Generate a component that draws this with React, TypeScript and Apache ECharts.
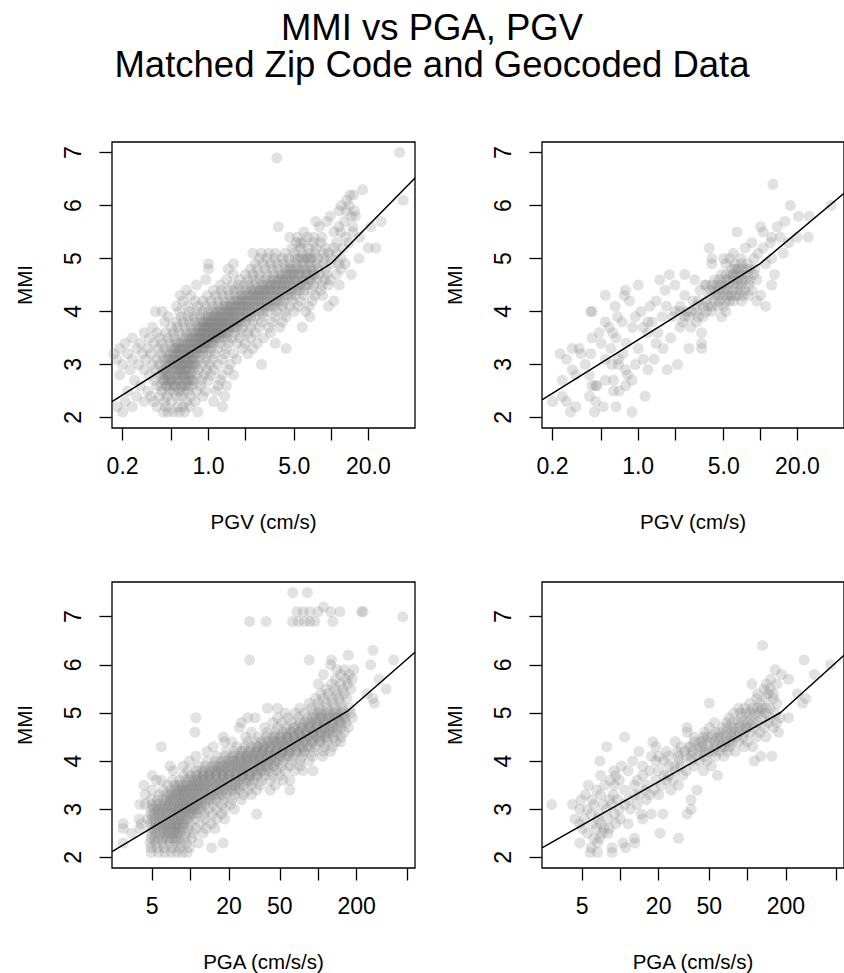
import React, { useEffect, useRef } from "react";
import * as echarts from "echarts";

// ---------- tick values ----------
const MMI_TICKS = [2, 3, 4, 5, 6, 7];
const PGV_TICKS = [0.2, 0.5, 1, 2, 5, 10, 20];
const PGV_LABELS = [0.2, 1, 5, 20];
const PGA_TICKS = [5, 10, 20, 50, 100, 200, 500];
const PGA_LABELS = [5, 20, 50, 200];

// ---------- axis ranges ----------
const PGV_RANGE = [0.164, 48];
const PGA_RANGE = [2.42, 573];
const MMI_RANGE_TOP = [1.8, 7.2];
const MMI_RANGE_BOTTOM = [1.78, 7.72];

// ---------- data: [MMI, list of ground motion values] ----------
const pgvZipRows: [number, number[]][] = [
  [2.1, [0.2, 0.43, 0.47, 0.52, 0.58, 0.64, 0.82]],
  [2.2, [0.18, 0.24, 0.38, 0.45, 0.56, 0.62, 0.7, 1.3]],
  [2.3, [0.21, 0.3, 0.36, 0.44, 0.5, 0.66, 0.78, 1.1]],
  [2.4, [0.26, 0.34, 0.4, 0.46, 0.55, 0.6, 0.72, 0.9, 1.35]],
  [2.5, [0.22, 0.32, 0.42, 0.48, 0.52, 0.58, 0.63, 0.68, 0.8, 0.95, 1.15]],
  [2.6, [0.28, 0.38, 0.41, 0.45, 0.5, 0.54, 0.6, 0.65, 0.74, 0.86, 1.2, 1.4]],
  [2.7, [0.25, 0.36, 0.43, 0.47, 0.51, 0.57, 0.62, 0.7, 0.76, 0.88, 1.0, 1.25]],
  [2.8, [0.19, 0.33, 0.4, 0.44, 0.49, 0.53, 0.59, 0.64, 0.72, 0.8, 0.92, 1.05, 1.3, 1.6]],
  [2.9, [0.23, 0.3, 0.37, 0.42, 0.46, 0.5, 0.55, 0.6, 0.67, 0.75, 0.83, 0.97, 1.1, 1.45]],
  [3.0, [0.2, 0.27, 0.35, 0.4, 0.45, 0.5, 0.56, 0.61, 0.66, 0.73, 0.79, 0.9, 1.02, 1.2, 1.5, 2.7]],
  [3.1, [0.18, 0.24, 0.31, 0.38, 0.43, 0.48, 0.53, 0.58, 0.64, 0.7, 0.77, 0.85, 0.95, 1.08, 1.3, 1.7]],
  [3.2, [0.17, 0.22, 0.29, 0.34, 0.41, 0.46, 0.52, 0.57, 0.63, 0.69, 0.75, 0.82, 0.9, 1.0, 1.12, 1.35, 1.6, 2.1]],
  [3.3, [0.19, 0.26, 0.32, 0.39, 0.44, 0.5, 0.55, 0.6, 0.66, 0.72, 0.8, 0.88, 0.96, 1.05, 1.18, 1.4, 1.9, 2.3, 4.3]],
  [3.4, [0.21, 0.28, 0.36, 0.42, 0.48, 0.54, 0.6, 0.68, 0.74, 0.81, 0.87, 0.93, 1.0, 1.1, 1.25, 1.45, 1.7, 2.0, 2.5, 3.5]],
  [3.5, [0.24, 0.33, 0.4, 0.47, 0.53, 0.62, 0.7, 0.78, 0.85, 0.92, 1.0, 1.08, 1.16, 1.28, 1.4, 1.55, 1.8, 2.2, 2.8]],
  [3.6, [0.3, 0.38, 0.45, 0.52, 0.58, 0.66, 0.76, 0.84, 0.9, 0.98, 1.06, 1.14, 1.22, 1.32, 1.45, 1.62, 1.85, 2.1, 2.4, 3.2]],
  [3.7, [0.35, 0.5, 0.56, 0.64, 0.72, 0.8, 0.88, 0.95, 1.02, 1.1, 1.2, 1.3, 1.42, 1.55, 1.7, 1.9, 2.2, 2.6, 3.1, 3.8, 5.8]],
  [3.8, [0.44, 0.55, 0.62, 0.7, 0.78, 0.86, 0.94, 1.02, 1.12, 1.22, 1.32, 1.45, 1.6, 1.75, 2.0, 2.3, 2.7, 3.3, 4.0]],
  [3.9, [0.47, 0.6, 0.68, 0.76, 0.85, 0.95, 1.05, 1.15, 1.25, 1.38, 1.5, 1.65, 1.85, 2.05, 2.4, 2.8, 3.5, 4.3, 6.7]],
  [4.0, [0.37, 0.42, 0.58, 0.7, 0.8, 0.9, 1.0, 1.1, 1.22, 1.35, 1.48, 1.62, 1.8, 2.0, 2.25, 2.6, 3.0, 3.6, 4.2, 5.0, 6.2]],
  [4.1, [0.55, 0.68, 0.82, 0.95, 1.08, 1.2, 1.32, 1.45, 1.6, 1.78, 1.95, 2.15, 2.4, 2.7, 3.1, 3.5, 4.0, 4.6, 5.4, 6.6, 9.5]],
  [4.2, [0.62, 0.78, 0.9, 1.05, 1.2, 1.35, 1.5, 1.68, 1.85, 2.05, 2.3, 2.55, 2.85, 3.2, 3.6, 4.1, 4.8, 5.6, 7.0, 10.5]],
  [4.3, [0.59, 0.72, 0.98, 1.15, 1.3, 1.48, 1.65, 1.82, 2.0, 2.2, 2.45, 2.7, 3.0, 3.4, 3.8, 4.4, 5.1, 6.0, 7.4, 8.5]],
  [4.4, [0.66, 1.1, 1.28, 1.45, 1.62, 1.8, 2.0, 2.2, 2.4, 2.65, 2.9, 3.2, 3.6, 4.0, 4.5, 5.2, 6.0, 7.0, 8.2]],
  [4.5, [0.8, 1.25, 1.55, 1.75, 1.95, 2.15, 2.4, 2.7, 3.0, 3.3, 3.7, 4.1, 4.6, 5.3, 6.1, 7.2, 8.4, 9.5, 11.6]],
  [4.6, [0.95, 1.4, 1.8, 2.1, 2.35, 2.6, 2.9, 3.2, 3.6, 4.0, 4.5, 5.0, 5.8, 6.6, 7.6, 8.8, 9.8]],
  [4.7, [1.6, 2.0, 2.3, 2.6, 3.0, 3.4, 3.8, 4.3, 4.8, 5.4, 6.2, 7.0, 8.0, 9.2, 11, 14.5]],
  [4.8, [1.0, 1.45, 2.2, 2.5, 2.9, 3.3, 3.7, 4.2, 4.7, 5.3, 6.0, 6.8, 7.8, 9.0, 12]],
  [4.9, [1.0, 1.6, 2.4, 2.8, 3.2, 3.6, 4.1, 4.6, 5.2, 5.9, 6.7, 7.6, 8.6, 10, 11.5, 13]],
  [5.0, [2.6, 3.0, 3.5, 4.0, 4.5, 5.1, 5.7, 6.4, 7.0, 7.8, 8.8, 10, 12, 16.8]],
  [5.1, [2.3, 2.7, 3.1, 3.5, 4.2, 5.0, 5.8, 6.6, 7.4, 8.6, 9.5, 11]],
  [5.2, [4.8, 5.6, 6.5, 7.5, 9, 10.5, 12.5, 20, 23]],
  [5.3, [5.2, 5.6, 6.0, 7.2, 8.2, 11, 14]],
  [5.4, [4.6, 5.3, 6.4, 7.2, 8.4, 13, 17]],
  [5.5, [6.0, 10.5, 12, 15]],
  [5.6, [3.7, 8.0, 11.5, 15, 21]],
  [5.7, [7.5, 9.2, 12.8, 25.5]],
  [5.8, [9.8, 14.5, 15.7]],
  [5.9, [11.6, 13.2, 15.5]],
  [6.0, [12, 14]],
  [6.1, [13.3, 38.5]],
  [6.2, [14.2, 15.2]],
  [6.3, [18]],
  [6.9, [3.6]],
  [7.0, [36]],
];

// additional points in the densest part of the PGV / zip-code cloud
const pgvZipCoreRows: [number, number[]][] = [
  [2.6, [0.46, 0.53, 0.61, 0.69]],
  [2.7, [0.44, 0.49, 0.55, 0.66, 0.73]],
  [2.8, [0.42, 0.47, 0.56, 0.62, 0.68]],
  [2.9, [0.44, 0.52, 0.58, 0.64, 0.7]],
  [3.0, [0.48, 0.53, 0.59, 0.63, 0.7, 0.76]],
  [3.1, [0.46, 0.51, 0.56, 0.62, 0.67, 0.74]],
  [3.2, [0.49, 0.55, 0.6, 0.66, 0.72, 0.79]],
  [3.3, [0.53, 0.58, 0.63, 0.69, 0.76, 0.84, 0.92]],
  [3.4, [0.57, 0.64, 0.71, 0.78, 0.84, 0.9, 0.97, 1.05]],
  [3.5, [0.66, 0.74, 0.82, 0.88, 0.96, 1.04, 1.12, 1.22]],
  [3.6, [0.72, 0.8, 0.87, 0.94, 1.02, 1.1, 1.18, 1.27, 1.38]],
  [3.7, [0.84, 0.92, 0.99, 1.06, 1.15, 1.25, 1.36, 1.48, 1.62]],
  [3.8, [0.9, 0.98, 1.07, 1.17, 1.27, 1.38, 1.52, 1.68, 1.85]],
  [3.9, [1.0, 1.1, 1.2, 1.32, 1.44, 1.58, 1.75, 1.95, 2.2]],
  [4.0, [1.16, 1.28, 1.42, 1.55, 1.7, 1.9, 2.1, 2.4, 2.8]],
  [4.1, [1.38, 1.52, 1.68, 1.86, 2.05, 2.28, 2.55, 2.9, 3.3]],
  [4.2, [1.6, 1.76, 1.95, 2.18, 2.42, 2.7, 3.0, 3.4, 3.85]],
  [4.3, [1.9, 2.1, 2.32, 2.58, 2.85, 3.2, 3.6, 4.1, 4.7]],
  [4.4, [2.3, 2.55, 2.8, 3.1, 3.4, 3.8, 4.25, 4.8, 5.5]],
  [4.5, [2.8, 3.15, 3.5, 3.9, 4.35, 4.9, 5.6, 6.4]],
  [4.6, [3.4, 3.8, 4.2, 4.7, 5.3, 6.0, 6.8]],
  [4.7, [4.0, 4.5, 5.0, 5.6, 6.4, 7.3]],
  [4.8, [4.5, 5.0, 5.6, 6.3, 7.2]],
  [5.0, [5.4, 6.1, 6.7]],
];

const pgvGeoRows: [number, number[]][] = [
  [2.1, [0.28, 0.44, 0.89]],
  [2.2, [0.31, 0.52, 0.66]],
  [2.3, [0.2, 0.26, 0.45]],
  [2.4, [0.24, 0.4, 1.14]],
  [2.5, [0.63, 0.7]],
  [2.6, [0.42, 0.46, 0.45, 0.79]],
  [2.7, [0.24, 0.54, 0.63, 0.89]],
  [2.8, [0.31, 0.4, 0.82]],
  [2.9, [0.29, 0.79, 1.2, 1.73]],
  [3.0, [0.37, 0.61, 0.69, 0.95, 2.1]],
  [3.1, [0.26, 0.54, 0.69, 1.1, 1.35]],
  [3.2, [0.23, 0.34, 0.41, 0.75]],
  [3.3, [0.29, 0.33, 0.6, 1.0, 1.6, 2.6, 3.3]],
  [3.4, [0.5, 0.8, 1.4, 3.3]],
  [3.5, [0.42, 0.66, 1.84]],
  [3.6, [0.48, 0.62, 1.2, 1.45, 3.3]],
  [3.7, [0.58, 0.9, 1.1, 2.2, 2.7]],
  [3.8, [0.54, 0.74, 1.2, 1.3, 2.3, 3.0]],
  [3.9, [0.68, 0.95, 1.57, 1.9, 2.4, 2.6, 3.1, 3.4, 4.8]],
  [4.0, [0.41, 0.42, 1.05, 2.0, 2.2, 2.5, 2.7, 3.0, 3.6, 4.0, 5.2]],
  [4.1, [0.65, 1.25, 1.7, 2.2, 3.0, 3.4, 3.7, 4.0, 4.5, 5.0, 11]],
  [4.2, [0.85, 1.4, 2.8, 3.1, 3.6, 4.2, 4.6, 5.2, 5.6, 6.0, 7.0, 9.3]],
  [4.3, [0.54, 0.77, 2.4, 3.8, 4.3, 4.6, 5.0, 5.4, 5.8, 6.2, 6.6, 7.2, 8.0, 10]],
  [4.4, [0.79, 1.66, 3.2, 3.9, 4.2, 4.5, 5.0, 5.4, 6.0, 6.8, 7.4, 8.5]],
  [4.5, [1.0, 2.0, 3.5, 3.6, 4.0, 4.4, 4.7, 5.0, 5.4, 6.0, 6.5, 7.0, 8.0, 12.3]],
  [4.6, [1.5, 2.9, 4.2, 4.6, 5.2, 5.5, 6.0, 6.5, 7.0, 7.5, 8.2, 9.3]],
  [4.7, [1.8, 2.4, 4.8, 5.2, 5.8, 6.0, 6.4, 7.0, 7.8, 8.8, 13]],
  [4.8, [5.8, 6.2, 6.6, 7.0, 7.5, 8.2, 9.0]],
  [4.9, [4.0, 5.2, 6.2, 7.0, 7.8, 11]],
  [5.0, [4.0, 5.0, 5.6, 6.9, 8.8, 12.3]],
  [5.1, [6.0, 9.5, 15.3]],
  [5.2, [3.8, 7.5, 10.5]],
  [5.3, [8.5, 12, 16.9]],
  [5.4, [12.3, 14.5, 19.8, 24.5]],
  [5.5, [6.4, 10.5]],
  [5.6, [10, 13.7]],
  [5.7, [15.8]],
  [5.8, [20.4, 25]],
  [6.0, [17.5, 37.8]],
  [6.4, [12.6]],
];

const pgaZipRows: [number, number[]][] = [
  [2.1, [4.9, 5.6, 6.3, 7.0, 7.8, 8.6, 9.4]],
  [2.2, [4.9, 5.5, 6.2, 7.2, 8.2, 9.8, 14.6]],
  [2.3, [2.96, 4.8, 5.3, 6.0, 6.8, 7.6, 8.4, 9.3, 11.5, 18]],
  [2.4, [4.9, 5.6, 6.4, 7.2, 8.0, 9.0, 10.2]],
  [2.5, [3.45, 4.9, 5.8, 6.6, 7.5, 8.3, 9.2, 10.5, 12.5]],
  [2.6, [2.96, 4.0, 4.9, 5.5, 6.2, 7.0, 7.8, 8.7, 9.6, 11, 13.2, 15.5]],
  [2.7, [2.96, 4.1, 4.9, 5.7, 6.5, 7.3, 8.1, 9.0, 10, 12, 14.5]],
  [2.8, [3.95, 4.6, 5.3, 6.0, 6.8, 7.6, 8.5, 9.5, 10.8, 13, 16, 18.5]],
  [2.9, [4.9, 5.6, 6.3, 7.1, 8.0, 9.0, 10, 11.2, 12.8, 14.8, 17.5, 33]],
  [3.0, [4.9, 5.5, 6.2, 7.0, 7.8, 8.7, 9.6, 10.8, 12.2, 13.8, 16, 18.5, 22]],
  [3.1, [4.0, 4.4, 5.0, 5.8, 6.6, 7.4, 8.3, 9.2, 10.3, 11.5, 13, 15, 17.5, 20.5]],
  [3.2, [4.9, 5.5, 6.1, 6.9, 7.7, 8.6, 9.6, 10.8, 12.2, 13.8, 15.8, 18, 21, 25]],
  [3.3, [4.4, 5.7, 6.5, 7.2, 8.1, 9.0, 10.2, 11.4, 12.8, 14.5, 16.5, 19, 22, 26, 30]],
  [3.4, [5.0, 6.1, 7.0, 7.9, 8.8, 9.8, 11, 12.4, 14, 16, 18.2, 21, 24, 28, 33, 42, 60]],
  [3.5, [4.3, 6.6, 7.5, 8.5, 9.5, 10.6, 11.8, 13.2, 15, 17, 19.5, 22.5, 26, 30, 35, 46]],
  [3.6, [5.4, 5.9, 7.2, 8.2, 9.2, 10.4, 11.6, 13, 14.5, 16.5, 18.5, 21, 24, 27.5, 31, 36, 42, 53, 60]],
  [3.7, [5.0, 8.8, 10, 11.3, 12.6, 14, 15.8, 17.8, 20, 22.5, 25.5, 29, 33, 38, 44, 50]],
  [3.8, [7.3, 9.5, 11, 12.4, 14, 15.6, 17.4, 19.5, 22, 25, 28, 32, 36, 41, 47, 55, 65, 76, 91]],
  [3.9, [6.9, 8.75, 11.5, 13, 14.8, 16.5, 18.5, 21, 23.5, 26.5, 30, 34, 39, 45, 52, 60, 72]],
  [4.0, [9.8, 13.5, 15.5, 17.5, 19.8, 22, 25, 28, 31.5, 35.5, 40, 46, 53, 62, 72, 85]],
  [4.1, [11, 16, 18.5, 21, 24, 27, 30.5, 34, 38.5, 43, 49, 56, 64, 75, 90, 108]],
  [4.2, [13.4, 19, 22, 25, 28.5, 32, 36, 40.5, 46, 52, 59, 67, 78, 92, 110, 125]],
  [4.3, [5.9, 15, 23, 26.5, 30, 34, 38, 43, 49, 55, 62, 71, 82, 95, 112, 130]],
  [4.4, [18.5, 21, 28, 32, 36, 41, 46, 52, 59, 67, 76, 88, 102, 118, 138, 150]],
  [4.5, [18, 27, 34, 39, 44, 50, 57, 65, 74, 85, 98, 114, 132, 150]],
  [4.6, [10.8, 30, 40, 46, 53, 61, 70, 80, 92, 106, 122, 140, 160]],
  [4.7, [24, 38, 48, 56, 64, 74, 85, 98, 113, 130, 150, 172]],
  [4.8, [25, 44, 52, 62, 72, 84, 96, 110, 127, 146, 165]],
  [4.9, [11, 28, 32, 48, 58, 70, 82, 95, 108, 124, 142, 162, 185]],
  [5.0, [55, 66, 78, 92, 106, 122, 140, 160, 180]],
  [5.1, [40, 48, 72, 88, 102, 118, 136, 155, 175]],
  [5.2, [85, 100, 115, 130, 150, 275]],
  [5.3, [95, 110, 128, 145, 168, 268]],
  [5.4, [105, 120, 140, 160, 240]],
  [5.5, [115, 135, 155, 180, 340]],
  [5.6, [100, 128, 150, 170]],
  [5.7, [136, 165, 185, 300]],
  [5.8, [110, 150, 175]],
  [5.9, [140, 160, 190]],
  [6.0, [125, 258]],
  [6.1, [29, 85, 127, 390]],
  [6.2, [172]],
  [6.3, [268]],
  [6.9, [29, 39, 63, 70, 78, 86, 94, 130]],
  [7.0, [460]],
  [7.1, [68, 76, 86, 100, 125, 148, 218, 225]],
  [7.2, [110]],
  [7.5, [63, 82]],
];

// additional points in the densest part of the PGA / zip-code cloud
const pgaZipCoreRows: [number, number[]][] = [
  [2.4, [5.2, 6.0, 6.8, 7.6]],
  [2.5, [5.3, 6.2, 7.0, 7.9]],
  [2.6, [5.2, 5.9, 6.6, 7.4, 8.2]],
  [2.7, [5.3, 6.1, 6.9, 7.7, 8.6]],
  [2.8, [5.0, 5.7, 6.4, 7.2, 8.0, 9.0]],
  [2.9, [5.2, 5.9, 6.7, 7.5, 8.4, 9.5, 10.6]],
  [3.0, [5.2, 5.9, 6.6, 7.4, 8.2, 9.2, 10.2, 11.5]],
  [3.1, [5.4, 6.2, 7.0, 7.9, 8.8, 9.8, 10.9, 12.2]],
  [3.2, [6.5, 7.3, 8.2, 9.1, 10.2, 11.4, 12.9, 14.6]],
  [3.3, [6.9, 7.7, 8.6, 9.6, 10.7, 12, 13.6, 15.4, 17.6]],
  [3.4, [7.5, 8.4, 9.3, 10.4, 11.6, 13, 14.8, 16.8, 19.5, 22.5]],
  [3.5, [8.0, 9.0, 10.1, 11.2, 12.5, 14, 15.9, 18, 20.8, 24]],
  [3.6, [9.7, 11, 12.3, 13.8, 15.5, 17.3, 19.6, 22.3, 25.5, 29]],
  [3.7, [11, 12.5, 14, 15.8, 17.8, 20, 22.6, 25.5, 29, 33]],
  [3.8, [13, 14.8, 16.5, 18.5, 20.8, 23.4, 26.5, 30, 34, 38.5]],
  [3.9, [15.6, 17.6, 19.8, 22.3, 25, 28, 31.6, 35.6, 40, 45]],
  [4.0, [18.6, 21, 23.6, 26.5, 29.7, 33.4, 37.5, 42, 48]],
  [4.1, [22, 25, 28, 31.5, 35.5, 40, 45, 51, 58]],
  [4.2, [26, 29.5, 33, 37, 41.5, 47, 53, 60, 68, 77]],
  [4.3, [33, 37, 41.5, 46.5, 52, 58.5, 66, 75, 86]],
  [4.4, [39, 44, 49.5, 55.5, 62, 70, 79, 90, 104]],
  [4.5, [46, 52, 58, 65, 73, 82, 92, 104, 118]],
  [4.6, [56, 63, 71, 80, 90, 101, 114, 130]],
  [4.7, [66, 75, 85, 96, 108, 122, 140]],
  [4.8, [78, 88, 100, 114, 130, 150]],
  [4.9, [90, 104, 118, 135, 155]],
  [5.0, [100, 115, 132, 150]],
];

const pgaGeoRows: [number, number[]][] = [
  [2.1, [5.8, 6.6, 8.6]],
  [2.2, [5.9, 8.6, 11]],
  [2.3, [4.8, 6.6, 10.5, 13]],
  [2.4, [6.2, 6.9, 12.9, 28.6]],
  [2.5, [5.5, 7.2, 8.0, 20.5]],
  [2.6, [5.0, 6.5, 7.4, 8.2]],
  [2.7, [4.8, 6.0, 7.0, 9.2, 11.5]],
  [2.8, [4.4, 5.2, 6.7, 8.0, 10, 15]],
  [2.9, [5.9, 6.8, 9.0, 14.6, 17.5, 21.6, 33.5]],
  [3.0, [4.8, 5.5, 7.8, 9.8, 12, 36]],
  [3.1, [2.88, 4.2, 6.2, 7.3, 8.6, 10.8, 13.5]],
  [3.2, [4.9, 6.0, 8.2, 9.5, 11.6, 16, 36]],
  [3.3, [5.3, 7.0, 8.8, 12.9, 14, 17, 20]],
  [3.4, [6.5, 10.8, 15.5, 18.5, 25, 40]],
  [3.5, [5.6, 7.5, 9.0, 12.9, 16, 21, 28.6]],
  [3.6, [8.3, 9.8, 13.5, 19, 23, 26]],
  [3.7, [7.0, 9.2, 15, 22, 24, 31, 58]],
  [3.8, [8.9, 11.5, 17, 20, 27, 33, 45]],
  [3.9, [10.2, 15, 24, 26.5, 30, 38, 52]],
  [4.0, [6.9, 12.5, 19, 22, 29, 36, 42, 48, 113]],
  [4.1, [17.5, 20, 24, 28.6, 33, 36, 40, 46, 56, 65, 127, 155]],
  [4.2, [14, 23, 28, 32, 37, 42, 46, 50, 54, 60, 70, 80]],
  [4.3, [7.8, 19, 30, 35, 36, 42, 44, 50, 56, 62, 66, 72, 94, 110]],
  [4.4, [18, 27, 38, 42, 44, 50, 55, 60, 66, 72, 76, 85, 100]],
  [4.5, [10.8, 38, 45, 48, 52, 58, 62, 68, 75, 82, 92, 118, 140]],
  [4.6, [33.5, 46, 56, 60, 68, 74, 80, 86, 95, 104, 125, 175]],
  [4.7, [33.5, 50, 64, 70, 78, 86, 96, 100, 112, 135, 160]],
  [4.8, [55, 68, 76, 84, 92, 100, 110, 120, 145, 170]],
  [4.9, [72, 89, 106, 128, 150, 180, 210]],
  [5.0, [78, 88, 97, 105, 115, 125, 138, 165]],
  [5.1, [85, 95, 110, 120, 130, 140, 150]],
  [5.2, [50, 104, 125, 170, 270]],
  [5.3, [118, 140, 160, 287]],
  [5.4, [120, 145, 160, 247]],
  [5.5, [135, 150]],
  [5.6, [108, 140, 170]],
  [5.7, [152, 210]],
  [5.8, [185, 335]],
  [5.9, [165]],
  [6.0, [450]],
  [6.1, [278]],
  [6.4, [131]],
];

// ---------- fitted (bilinear) relations: ground motion breakpoints and MMI ----------
const pgvZipFitX = [0.164, 10, 48];
const pgvZipFitY = [2.3, 4.91, 6.52];
const pgvGeoFitX = [0.164, 10, 48];
const pgvGeoFitY = [2.33, 4.91, 6.23];
const pgaZipFitX = [2.42, 172, 573];
const pgaZipFitY = [2.12, 5.05, 6.26];
const pgaGeoFitX = [2.42, 182, 573];
const pgaGeoFitY = [2.2, 5.01, 6.2];

// ---------- text ----------
const TITLE_LINE_1 = "MMI vs PGA, PGV";
const TITLE_LINE_2 = "Matched Zip Code and Geocoded Data";
const Y_NAME = "MMI";
const PGV_NAME = "PGV (cm/s)";
const PGA_NAME = "PGA (cm/s/s)";

const FONT = "'Liberation Sans', Arial, Helvetica, sans-serif";

function flatten(...groups: [number, number[]][][]): [number, number][] {
  const out: [number, number][] = [];
  groups.forEach((rows) =>
    rows.forEach(([m, xs]) => xs.forEach((x) => out.push([x, m])))
  );
  return out;
}

function zip(xs: number[], ys: number[]): [number, number][] {
  return xs.map((x, i) => [x, ys[i]]);
}

export default function App() {
  const ref = useRef<HTMLDivElement>(null);

  useEffect(() => {
    if (!ref.current) return;
    document.body.style.margin = "0";
    const chart = echarts.init(ref.current, undefined, { renderer: "svg" });

    const grids = [
      { left: 112, top: 142, width: 303, height: 286 },
      { left: 542, top: 142, width: 303, height: 286 },
      { left: 112, top: 582, width: 303, height: 286 },
      { left: 542, top: 582, width: 303, height: 286 },
    ].map((g) => ({
      ...g,
      show: true,
      borderColor: "#000",
      borderWidth: 1.3,
      backgroundColor: "transparent",
      containLabel: false,
    }));

    const xAxisFor = (i: number, isPgv: boolean) => ({
      type: "log",
      logBase: 10,
      gridIndex: i,
      min: isPgv ? PGV_RANGE[0] : PGA_RANGE[0],
      max: isPgv ? PGV_RANGE[1] : PGA_RANGE[1],
      axisLine: { show: false },
      splitLine: { show: false },
      axisTick: {
        show: true,
        customValues: isPgv ? PGV_TICKS : PGA_TICKS,
        length: 12.5,
        lineStyle: { color: "#000", width: 1.3 },
      },
      axisLabel: {
        show: true,
        customValues: isPgv ? PGV_LABELS : PGA_LABELS,
        formatter: (v: number) =>
          isPgv ? Number(v).toFixed(1) : String(Math.round(Number(v))),
        margin: 26,
        fontSize: 23,
        color: "#000",
        fontFamily: FONT,
      },
      name: isPgv ? PGV_NAME : PGA_NAME,
      nameLocation: "middle",
      nameGap: 83,
      nameMoveOverlap: false,
      nameTextStyle: { fontSize: 20.5, color: "#000", fontFamily: FONT },
    });

    const yAxisFor = (i: number, range: number[]) => ({
      type: "value",
      gridIndex: i,
      min: range[0],
      max: range[1],
      axisLine: { show: false },
      splitLine: { show: false },
      axisTick: {
        show: true,
        customValues: MMI_TICKS,
        length: 12.5,
        lineStyle: { color: "#000", width: 1.3 },
      },
      axisLabel: {
        show: true,
        customValues: MMI_TICKS,
        rotate: 90,
        margin: 28,
        fontSize: 23,
        color: "#000",
        fontFamily: FONT,
        formatter: (v: number) => String(Math.round(Number(v))),
      },
      name: Y_NAME,
      nameLocation: "middle",
      nameGap: 77,
      nameMoveOverlap: false,
      nameTextStyle: { fontSize: 20.5, color: "#000", fontFamily: FONT },
    });

    const panels = [
      { points: flatten(pgvZipRows, pgvZipCoreRows), fx: pgvZipFitX, fy: pgvZipFitY },
      { points: flatten(pgvGeoRows), fx: pgvGeoFitX, fy: pgvGeoFitY },
      { points: flatten(pgaZipRows, pgaZipCoreRows), fx: pgaZipFitX, fy: pgaZipFitY },
      { points: flatten(pgaGeoRows), fx: pgaGeoFitX, fy: pgaGeoFitY },
    ];

    const series: any[] = [];
    panels.forEach((p, i) => {
      series.push({
        type: "scatter",
        xAxisIndex: i,
        yAxisIndex: i,
        data: p.points,
        symbol: "circle",
        symbolSize: 11,
        itemStyle: { color: "rgba(122,122,122,0.27)", borderWidth: 0 },
        silent: true,
        clip: true,
        z: 2,
      });
      series.push({
        type: "line",
        xAxisIndex: i,
        yAxisIndex: i,
        data: zip(p.fx, p.fy),
        showSymbol: false,
        symbol: "none",
        lineStyle: { color: "#000", width: 1.5 },
        silent: true,
        clip: true,
        z: 3,
      });
    });

    chart.setOption({
      animation: false,
      backgroundColor: "#fff",
      grid: grids,
      xAxis: [xAxisFor(0, true), xAxisFor(1, true), xAxisFor(2, false), xAxisFor(3, false)],
      yAxis: [
        yAxisFor(0, MMI_RANGE_TOP),
        yAxisFor(1, MMI_RANGE_TOP),
        yAxisFor(2, MMI_RANGE_BOTTOM),
        yAxisFor(3, MMI_RANGE_BOTTOM),
      ],
      series,
      graphic: [
        {
          type: "text",
          x: 432,
          y: 27,
          style: {
            text: TITLE_LINE_1,
            align: "center",
            verticalAlign: "middle",
            fontSize: 36.5,
            fontFamily: FONT,
            fill: "#000",
          },
        },
        {
          type: "text",
          x: 432,
          y: 64,
          style: {
            text: TITLE_LINE_2,
            align: "center",
            verticalAlign: "middle",
            fontSize: 36.5,
            fontFamily: FONT,
            fill: "#000",
          },
        },
      ],
    });

    return () => chart.dispose();
  }, []);

  return (
    <div
      ref={ref}
      style={{ position: "absolute", left: 0, top: 0, width: 844, height: 973 }}
    />
  );
}
